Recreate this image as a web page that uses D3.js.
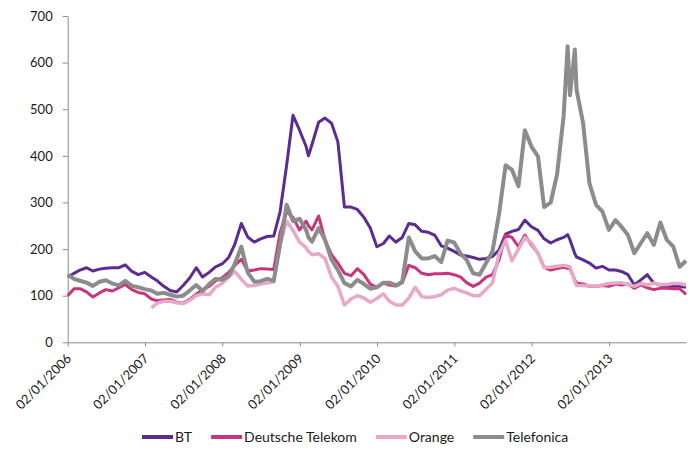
<!DOCTYPE html>
<html><head><meta charset="utf-8">
<script src="https://cdn.jsdelivr.net/npm/d3@7"></script>
<style>body{margin:0;background:#fff}svg{display:block}</style>
</head><body>
<script>
const dates = [
"2006-01-02","2006-02-01","2006-03-01","2006-04-01","2006-05-01","2006-06-01","2006-07-01","2006-08-01","2006-09-01","2006-10-01","2006-11-01","2006-12-01",
"2007-01-01","2007-02-01","2007-03-01","2007-04-01","2007-05-01","2007-06-01","2007-07-01","2007-08-01","2007-09-01","2007-10-01","2007-11-01","2007-12-01",
"2008-01-01","2008-02-01","2008-03-01","2008-04-01","2008-05-01","2008-06-01","2008-07-01","2008-08-01","2008-09-01","2008-10-01","2008-11-01","2008-12-01",
"2009-01-01","2009-02-01","2009-02-12","2009-03-01","2009-04-01","2009-05-01","2009-06-01","2009-07-01","2009-08-01","2009-09-01","2009-10-01","2009-11-01","2009-12-01",
"2010-01-01","2010-02-01","2010-03-01","2010-04-01","2010-05-01","2010-06-01","2010-07-01","2010-08-01","2010-09-01","2010-10-01","2010-11-01","2010-12-01",
"2011-01-01","2011-02-01","2011-03-01","2011-04-01","2011-05-01","2011-06-01","2011-07-01","2011-08-01","2011-09-01","2011-10-01","2011-11-01","2011-12-01",
"2012-01-01","2012-02-01","2012-03-01","2012-04-01","2012-05-01","2012-06-01","2012-06-20","2012-07-01","2012-07-24","2012-08-01","2012-09-01","2012-10-01","2012-11-01","2012-12-01",
"2013-01-01","2013-02-01","2013-03-01","2013-04-01","2013-05-01","2013-06-01","2013-07-01","2013-08-01","2013-09-01","2013-10-01","2013-11-01","2013-12-01",
"2013-12-31"];

const bt = [
140,148,155,160,153,157,159,160,160,166,152,145,
150,140,132,120,111,108,122,138,160,140,150,162,
168,182,210,255,226,215,222,227,228,280,380,487,
455,420,400,425,472,481,470,430,290,290,285,268,245,
205,212,228,215,225,255,252,238,236,230,207,202,
195,187,185,182,178,180,184,198,232,238,242,262,
248,240,222,213,220,225,231,220,190,183,177,170,159,163,
155,155,152,145,123,134,145,127,123,120,120,120,
118];

const deutscheTelekom = [
100,115,115,108,97,106,113,110,117,124,113,107,
104,93,89,91,92,86,84,92,103,113,120,132,
138,150,165,178,153,155,158,157,156,235,280,268,
241,260,250,241,271,220,188,170,148,143,158,145,125,
118,127,123,121,128,165,160,148,145,147,147,148,
145,140,128,120,127,140,145,177,230,225,205,230,
209,191,161,155,158,161,159,158,134,127,125,120,120,122,
120,125,123,125,116,123,117,113,116,116,115,115,
103];

const orange = [
null,null,null,null,null,null,null,null,null,null,null,null,
null,74,84,88,88,85,83,90,100,104,102,118,
126,140,152,135,121,122,125,127,130,210,260,240,
215,203,195,188,190,180,140,120,80,93,100,95,86,
94,104,88,80,80,95,118,98,96,98,102,112,
116,110,106,100,100,114,127,190,218,175,200,225,
213,191,161,161,163,165,163,162,130,122,122,121,121,123,
126,127,128,124,120,126,123,127,124,124,126,126,
123];

const telefonica = [
145,136,132,128,121,130,133,126,122,132,121,118,
114,111,104,106,102,98,100,111,123,110,125,136,
134,142,168,205,150,130,131,136,132,210,295,260,
265,241,225,216,245,220,177,155,127,120,134,125,115,
118,128,128,122,130,225,195,180,180,185,172,218,
214,190,177,148,145,170,195,275,380,370,335,455,
420,399,290,300,360,485,635,530,628,542,470,341,295,281,
241,262,248,230,191,213,234,209,257,220,205,162,
175];

const seriesNames = ["BT","Deutsche Telekom","Orange","Telefonica"];
const seriesColors = ["#5b2c91","#c8357d","#e6a9c8","#8c8c8c"];
const seriesWidths = [3,3,3.5,4];
const yTicks = [0,100,200,300,400,500,600,700];
const xTickDates = ["2006-01-02","2007-01-02","2008-01-02","2009-01-02","2010-01-02","2011-01-02","2012-01-02","2013-01-02"];
const xDomain = ["2006-01-02","2013-12-31"];

const W = 692, H = 451;
const parse = d3.timeParse("%Y-%m-%d");
const fmt = d3.timeFormat("%d/%m/%Y");
const font = "Lato, 'Open Sans', sans-serif";

const svg = d3.select("body").append("svg").attr("width", W).attr("height", H)
  .style("font-family", font);

const x = d3.scaleTime().domain(xDomain.map(parse)).range([67.7, 686]);
const y = d3.scaleLinear().domain([0, 700]).range([342.3, 16]);

const allValues = [bt, deutscheTelekom, orange, telefonica];
const parsedDates = dates.map(parse);

// Y axis
const yAx = svg.append("g").attr("transform", "translate(67.7,0)")
  .call(d3.axisLeft(y).tickValues(yTicks).tickSize(5).tickSizeOuter(0).tickPadding(10));
yAx.select(".domain").attr("stroke", "#8a8a8a");
yAx.selectAll(".tick line").attr("stroke", "#8a8a8a");
yAx.selectAll("text").attr("font-size", 13).attr("fill", "#1a1a1a").style("font-family", font);

// X axis
const xAx = svg.append("g").attr("transform", "translate(0,342.3)")
  .call(d3.axisBottom(x).tickValues(xTickDates.map(parse)).tickSize(4).tickSizeOuter(0).tickFormat(fmt));
xAx.select(".domain").attr("stroke", "#8a8a8a");
xAx.selectAll(".tick line").attr("stroke", "#8a8a8a");
xAx.selectAll("text")
  .attr("font-size", 13).attr("fill", "#1a1a1a").style("font-family", font)
  .attr("text-anchor", "end").attr("dy", null).attr("y", null)
  .attr("transform", "translate(4,17) rotate(-45)");

// Lines
const line = d3.line()
  .defined(d => d.v != null)
  .x(d => x(d.date))
  .y(d => y(d.v));

allValues.forEach((vals, i) => {
  const data = parsedDates.map((d, j) => ({date: d, v: vals[j]}));
  svg.append("path").datum(data)
    .attr("fill", "none")
    .attr("stroke", seriesColors[i])
    .attr("stroke-width", seriesWidths[i])
    .attr("stroke-linejoin", "round")
    .attr("d", line);
});

// Legend
const leg = svg.append("g").attr("transform", "translate(0,437)");
let lx = 142;
seriesNames.forEach((name, i) => {
  leg.append("line").attr("x1", lx).attr("x2", lx + 31).attr("y1", 0).attr("y2", 0)
    .attr("stroke", seriesColors[i]).attr("stroke-width", 4);
  const t = leg.append("text").attr("x", lx + 33).attr("y", 0).attr("dy", "0.35em")
    .attr("font-size", 14).attr("fill", "#1a1a1a").style("font-family", font).text(name);
  lx += 33 + t.node().getComputedTextLength() + 19;
});
</script>
</body></html>
